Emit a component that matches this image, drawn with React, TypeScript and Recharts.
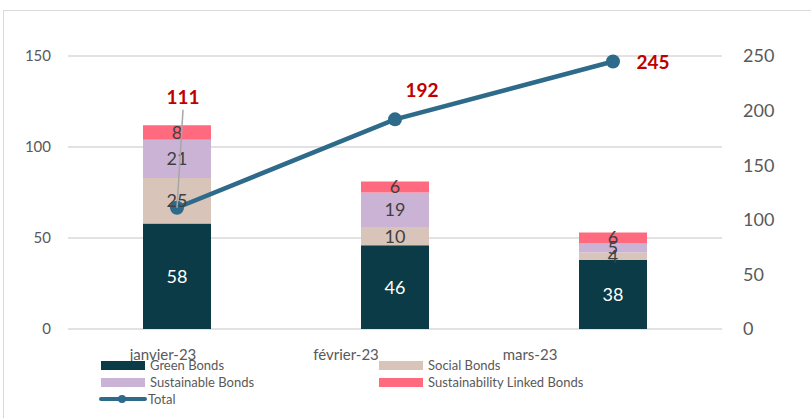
import React from "react";
import { ComposedChart, Bar, Line, XAxis, YAxis, CartesianGrid, LabelList } from "recharts";

const months = ["janvier-23", "février-23", "mars-23"];
const greenBonds = [58, 46, 38];
const socialBonds = [25, 10, 4];
const sustainableBonds = [21, 19, 5];
const slBonds = [8, 6, 6];
const totals = [111, 192, 245];
const leftTicks = [0, 50, 100, 150];
const rightTicks = [0, 50, 100, 150, 200, 250];

const data = months.map((m, i) => ({
  month: m,
  green: greenBonds[i],
  social: socialBonds[i],
  sustainable: sustainableBonds[i],
  slb: slBonds[i],
  total: totals[i],
}));

const FONT = "Lato, 'Liberation Sans', sans-serif";
const C_GREEN = "#0B3B46";
const C_SOCIAL = "#D9C4B9";
const C_SUST = "#CBB3D5";
const C_SLB = "#FF6A7E";
const C_LINE = "#2E6A8A";
const C_RED = "#C00000";
const C_TXT = "#595959";

const xTickShift = [-14, -49, -83];
const totalLabelOffset = [
  { dx: 6, dy: -104, leader: true },
  { dx: 27, dy: -22, leader: false },
  { dx: 40, dy: 8, leader: false },
];

const XTick = (props: any) => {
  const { x, y, payload, index } = props;
  return (
    <text x={x + (xTickShift[index] || 0)} y={y + 23} textAnchor="middle" fill={C_TXT} fontSize={15} fontFamily={FONT}>
      {payload.value}
    </text>
  );
};

const TotalLabel = (props: any) => {
  const { x, y, value, index } = props;
  const o = totalLabelOffset[index];
  return (
    <g>
      {o.leader && <line x1={x + o.dx} y1={y + o.dy + 6} x2={x} y2={y} stroke="#A6A6A6" strokeWidth={1.5} />}
      <text x={x + o.dx} y={y + o.dy} textAnchor="middle" fill={C_RED} fontSize={19} fontWeight="bold" fontFamily={FONT}>
        {value}
      </text>
    </g>
  );
};

const LegendItem = ({ color, label, left, top, line }: any) => (
  <div style={{ position: "absolute", left, top, display: "flex", alignItems: "center", height: 16 }}>
    {line ? (
      <svg width={48} height={12} style={{ display: "block" }}>
        <line x1={2} y1={6} x2={46} y2={6} stroke={color} strokeWidth={4} strokeLinecap="round" />
        <circle cx={23} cy={6} r={4} fill={color} />
      </svg>
    ) : (
      <div style={{ width: 44, height: 9, background: color, marginRight: 4 }} />
    )}
    <span style={{ fontFamily: FONT, fontSize: 13, color: C_TXT, marginLeft: 1, whiteSpace: "nowrap" }}>{label}</span>
  </div>
);

export default function App() {
  return (
    <div style={{ position: "absolute", left: 0, top: 0, width: 811, height: 418, overflow: "hidden", background: "#fff" }}>
      <div style={{ position: "absolute", left: 3, top: 10, width: 900, height: 500, border: "1px solid #D9D9D9" }} />
      <div style={{ position: "absolute", left: 0, top: 0 }}>
        <ComposedChart width={811} height={418} data={data} margin={{ top: 56, right: 0, bottom: 59, left: 0 }}>
          <CartesianGrid yAxisId="left" horizontal vertical={false} stroke="#D9D9D9" strokeWidth={1.5} />
          <XAxis dataKey="month" height={30} axisLine={false} tickLine={false} tick={<XTick />} interval={0} />
          <YAxis
            yAxisId="left"
            width={68}
            domain={[0, 150]}
            ticks={leftTicks}
            axisLine={false}
            tickLine={false}
            tickSize={0}
            tickMargin={17}
            tick={{ fill: C_TXT, fontSize: 15, fontFamily: FONT }}
          />
          <YAxis
            yAxisId="right"
            orientation="right"
            width={89}
            domain={[0, 250]}
            ticks={rightTicks}
            axisLine={false}
            tickLine={false}
            tickSize={0}
            tickMargin={21}
            tick={{ fill: C_TXT, fontSize: 18, fontFamily: FONT }}
          />
          <Bar yAxisId="left" dataKey="green" stackId="a" fill={C_GREEN} barSize={68} isAnimationActive={false}>
            <LabelList dataKey="green" position="center" fill="#FFFFFF" fontSize={18} fontFamily={FONT} />
          </Bar>
          <Bar yAxisId="left" dataKey="social" stackId="a" fill={C_SOCIAL} barSize={68} isAnimationActive={false}>
            <LabelList dataKey="social" position="center" fill="#404040" fontSize={18} fontFamily={FONT} />
          </Bar>
          <Bar yAxisId="left" dataKey="sustainable" stackId="a" fill={C_SUST} barSize={68} isAnimationActive={false}>
            <LabelList dataKey="sustainable" position="center" fill="#404040" fontSize={18} fontFamily={FONT} />
          </Bar>
          <Bar yAxisId="left" dataKey="slb" stackId="a" fill={C_SLB} barSize={68} isAnimationActive={false}>
            <LabelList dataKey="slb" position="center" fill="#404040" fontSize={18} fontFamily={FONT} />
          </Bar>
          <Line
            yAxisId="right"
            dataKey="total"
            stroke={C_LINE}
            strokeWidth={4.5}
            dot={{ r: 7, fill: C_LINE, stroke: C_LINE, strokeWidth: 0 }}
            isAnimationActive={false}
          >
            <LabelList dataKey="total" content={<TotalLabel />} />
          </Line>
        </ComposedChart>
      </div>
      <LegendItem color={C_GREEN} label="Green Bonds" left={101} top={357} />
      <LegendItem color={C_SOCIAL} label="Social Bonds" left={379} top={357} />
      <LegendItem color={C_SUST} label="Sustainable Bonds" left={101} top={374} />
      <LegendItem color={C_SLB} label="Sustainability Linked Bonds" left={379} top={374} />
      <LegendItem color={C_LINE} label="Total" left={99} top={391} line />
    </div>
  );
}
